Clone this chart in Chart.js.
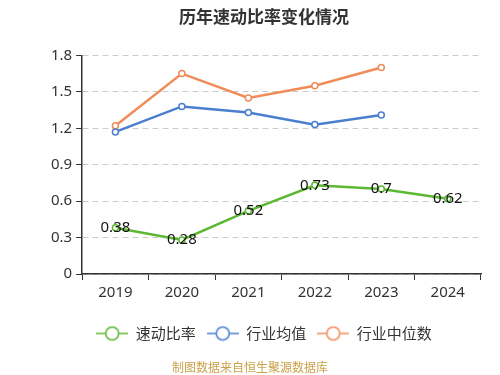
<!DOCTYPE html>
<html>
<head>
<meta charset="utf-8">
<script src="https://cdn.jsdelivr.net/npm/chart.js@4/dist/chart.umd.min.js"></script>
<style>
  html, body { margin: 0; padding: 0; background: #fff; }
  #wrap { width: 500px; height: 375px; position: relative; }
</style>
</head>
<body>
<div id="wrap"><canvas id="myChart" width="500" height="375"></canvas></div>
<script>
var years = ['2019', '2020', '2021', '2022', '2023', '2024'];
var quickRatio = [0.38, 0.28, 0.52, 0.73, 0.7, 0.62];
var industryAvg = [1.17, 1.38, 1.33, 1.23, 1.31, null];
var industryMedian = [1.22, 1.65, 1.45, 1.55, 1.70, null];
var yTicks = [0, 0.3, 0.6, 0.9, 1.2, 1.5, 1.8];

var FONT = "'Noto Sans', 'Noto Sans CJK SC', sans-serif";

// little "line through a circle" icon for the legend
function legendIcon(color) {
  var c = document.createElement('canvas');
  c.width = 32; c.height = 16;
  var g = c.getContext('2d');
  g.strokeStyle = color;
  g.lineWidth = 1.5;
  g.beginPath(); g.moveTo(0, 8); g.lineTo(32, 8); g.stroke();
  g.fillStyle = '#fff';
  g.beginPath(); g.arc(16, 8, 6.5, 0, Math.PI * 2); g.fill(); g.stroke();
  return c;
}

// value labels on the green line
var valueLabels = {
  id: 'valueLabels',
  afterDatasetsDraw: function(chart) {
    var ctx = chart.ctx;
    var meta = chart.getDatasetMeta(0);
    ctx.save();
    ctx.font = '15px ' + FONT;
    ctx.fillStyle = '#111';
    ctx.textAlign = 'center';
    ctx.textBaseline = 'middle';
    meta.data.forEach(function(pt, i) {
      ctx.fillText(String(quickRatio[i]), pt.x, pt.y);
    });
    ctx.restore();
  }
};

var sourceNote = {
  id: 'sourceNote',
  afterDraw: function(chart) {
    var ctx = chart.ctx;
    ctx.save();
    ctx.font = "12px 'Noto Sans CJK SC', sans-serif";
    ctx.fillStyle = '#c9a24a';
    ctx.textAlign = 'center';
    ctx.textBaseline = 'middle';
    ctx.fillText('制图数据来自恒生聚源数据库', 250, 367);
    ctx.restore();
  }
};

var colors = ['#5cb832', '#4a7fd0', '#f08c5a'];

var ctx = document.getElementById('myChart').getContext('2d');
var myChart = new Chart(ctx, {
  type: 'line',
  data: {
    labels: years,
    datasets: [{
      label: '速动比率',
      data: quickRatio,
      borderColor: colors[0],
      backgroundColor: '#fff',
      borderWidth: 2.5,
      pointRadius: 3,
      pointBorderWidth: 1.5,
      pointBorderColor: colors[0]
    }, {
      label: '行业均值',
      data: industryAvg,
      borderColor: colors[1],
      backgroundColor: '#fff',
      borderWidth: 2.5,
      pointRadius: 3,
      pointBorderWidth: 1.5,
      pointBorderColor: colors[1]
    }, {
      label: '行业中位数',
      data: industryMedian,
      borderColor: colors[2],
      backgroundColor: '#fff',
      borderWidth: 2.5,
      pointRadius: 3,
      pointBorderWidth: 1.5,
      pointBorderColor: colors[2]
    }]
  },
  options: {
    responsive: false,
    animation: false,
    layout: { padding: { left: 47, right: 19, top: 4, bottom: 24 } },
    plugins: {
      title: {
        display: true,
        text: '历年速动比率变化情况',
        color: '#333',
        font: { family: "'Noto Sans CJK SC', sans-serif", size: 17, weight: 'bold' },
        padding: { top: 2, bottom: 29 }
      },
      legend: {
        position: 'bottom',
        labels: {
          usePointStyle: true,
          pointStyleWidth: 32,
          color: '#333',
          padding: 11,
          font: { family: "'Noto Sans CJK SC', sans-serif", size: 15 },
          generateLabels: function(chart) {
            return chart.data.datasets.map(function(ds, i) {
              return {
                text: ds.label,
                pointStyle: legendIcon(colors[i]),
                fillStyle: '#fff',
                strokeStyle: colors[i],
                lineWidth: 0,
                fontColor: '#333',
                hidden: false,
                datasetIndex: i
              };
            });
          }
        }
      },
      tooltip: { enabled: false }
    },
    scales: {
      x: {
        offset: true,
        afterFit: function(axis) { axis.height += 9; },
        grid: { display: true, drawOnChartArea: false, offset: true, tickLength: 6, tickColor: '#333' },
        border: { color: '#333', width: 1.5 },
        ticks: { color: '#333', font: { family: FONT, size: 15 }, padding: 4 }
      },
      y: {
        min: 0,
        max: 1.8,
        afterBuildTicks: function(axis) {
          axis.ticks = yTicks.map(function(v) { return { value: v }; });
        },
        grid: { color: '#cccccc', tickColor: '#333', tickLength: 6, lineWidth: 1 },
        border: { color: '#333', width: 1.5, dash: [6, 4] },
        ticks: {
          color: '#333',
          font: { family: FONT, size: 15 },
          padding: 4,
          callback: function(v) { return String(Number(v.toFixed(1))); }
        }
      }
    }
  },
  plugins: [valueLabels, sourceNote]
});
</script>
</body>
</html>
